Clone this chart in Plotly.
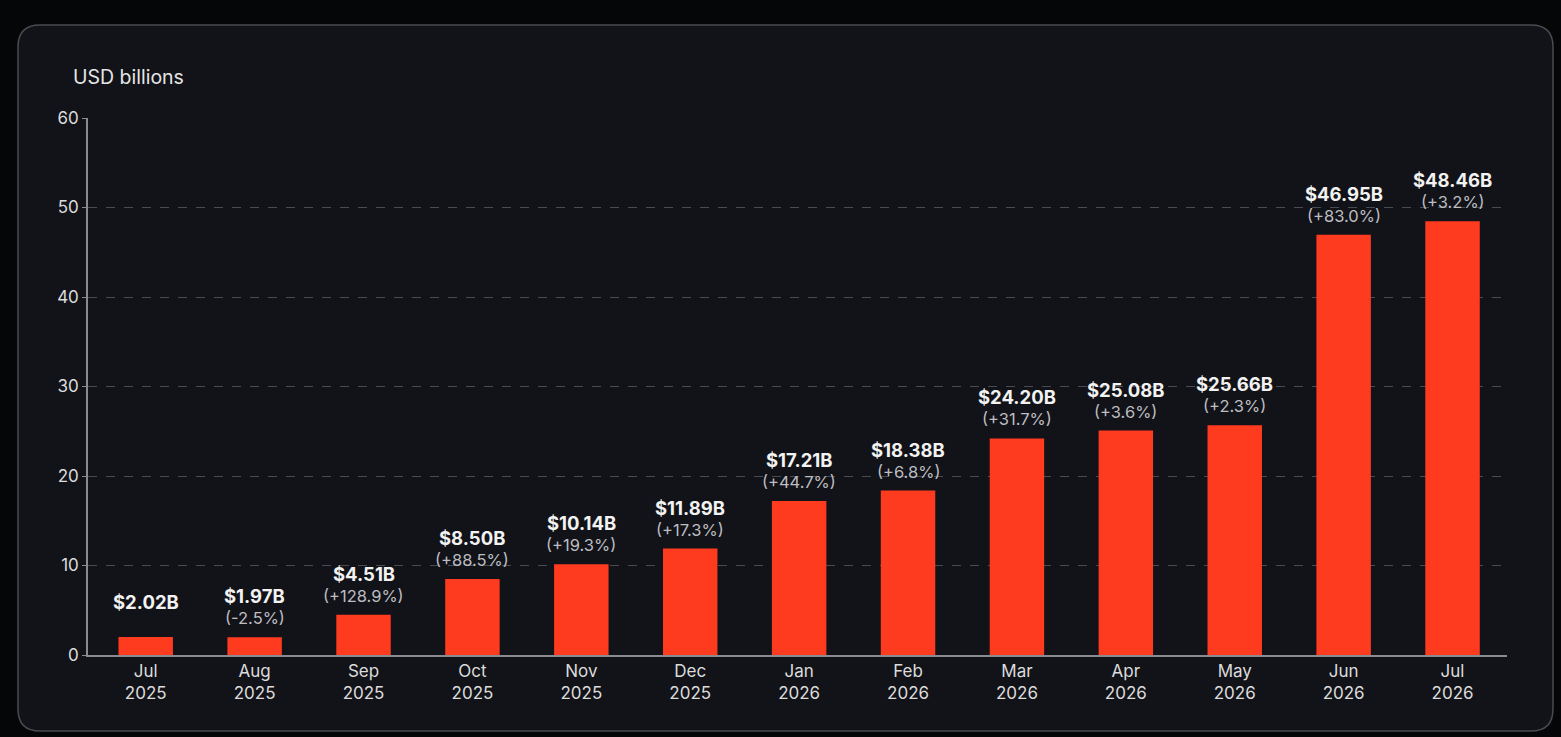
import plotly.graph_objects as go

# monthly values, USD billions
months = ["Jul<br>2025", "Aug<br>2025", "Sep<br>2025", "Oct<br>2025", "Nov<br>2025",
          "Dec<br>2025", "Jan<br>2026", "Feb<br>2026", "Mar<br>2026", "Apr<br>2026",
          "May<br>2026", "Jun<br>2026", "Jul<br>2026"]
values = [2.02, 1.97, 4.51, 8.50, 10.14, 11.89, 17.21, 18.38, 24.20, 25.08, 25.66, 46.95, 48.46]
changes = ["", "-2.5%", "+128.9%", "+88.5%", "+19.3%", "+17.3%", "+44.7%", "+6.8%",
           "+31.7%", "+3.6%", "+2.3%", "+83.0%", "+3.2%"]

W, H = 1561, 737
L, R, T, B = 88, 54, 118, 82
pw, ph = W - L - R, H - T - B


def px(x):
    return (x - L) / pw


def py(y):
    return (H - B - y) / ph


fig = go.Figure()
fig.add_trace(go.Bar(
    x=months, y=values,
    marker=dict(color="#FF3B1F", line=dict(width=0)),
    width=0.5,
    hoverinfo="skip",
))

for m, v, c in zip(months, values, changes):
    # value label, then change label just above the bar
    fig.add_annotation(x=m, y=v, xref="x", yref="y", text="<b>$%.2fB</b>" % v,
                       showarrow=False, yanchor="middle", yshift=41 if c else 35,
                       font=dict(family="Inter", size=18.5, color="#f2f2f2"))
    if c:
        fig.add_annotation(x=m, y=v, xref="x", yref="y", text="(%s)" % c,
                           showarrow=False, yanchor="middle", yshift=19,
                           font=dict(family="Inter", size=16.5, color="#bdbdc2"))

# rounded card behind the chart
x0, x1, y0, y1, r = 18, 1553, 25, 731, 22
path = ("M {a},{b} L {c},{b} Q {d},{b} {d},{e} L {d},{f} Q {d},{g} {c},{g} "
        "L {a},{g} Q {h},{g} {h},{f} L {h},{e} Q {h},{b} {a},{b} Z").format(
    a=px(x0 + r), b=py(y0), c=px(x1 - r), d=px(x1), e=py(y0 + r),
    f=py(y1 - r), g=py(y1), h=px(x0))
fig.add_shape(type="path", path=path, xref="paper", yref="paper", layer="below",
              fillcolor="#121318", line=dict(color="#4a4b50", width=1.5))

fig.add_annotation(x=px(71), y=py(77), xref="paper", yref="paper", text="USD billions",
                   showarrow=False, xanchor="left", yanchor="middle",
                   font=dict(family="Inter", size=19.5, color="#e6e6e6"))

fig.update_layout(
    width=W, height=H, autosize=False,
    margin=dict(l=L, r=R, t=T, b=B),
    paper_bgcolor="#050608",
    plot_bgcolor="rgba(0,0,0,0)",
    showlegend=False,
    bargap=0.5,
    font=dict(family="Inter", color="#dcdcdc", size=17),
)
fig.update_xaxes(
    range=[-0.53, 12.5],
    showgrid=False, showline=True, linecolor="#8a8b90", linewidth=1.5,
    ticks="", tickfont=dict(size=17, color="#dcdcdc"), fixedrange=True,
)
fig.update_yaxes(
    range=[0, 60], dtick=10, showgrid=True, gridcolor="#4a4b50", griddash="dash",
    gridwidth=1, showline=True, linecolor="#8a8b90", linewidth=1.5,
    ticks="outside", ticklen=4, tickcolor="#8a8b90",
    tickfont=dict(size=17, color="#dcdcdc"), zeroline=False, fixedrange=True,
)

fig.write_html("out.html", config={"displayModeBar": False},
               post_script="document.body.style.margin='0';document.body.style.background='#050608';")
